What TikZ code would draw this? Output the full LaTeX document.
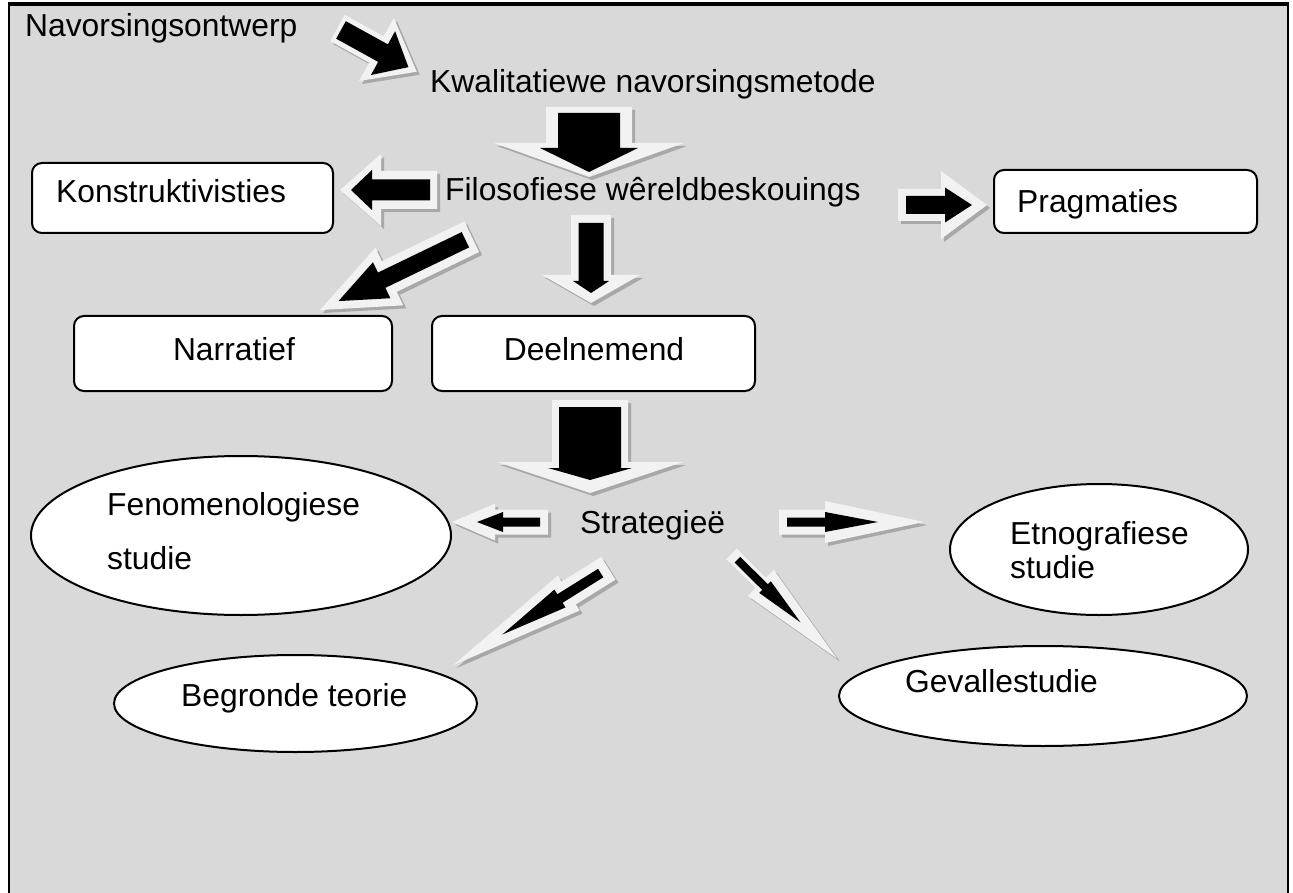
\documentclass[tikz,border=0pt]{standalone}
\usepackage{fontspec}
\setmainfont{Liberation Sans}
\usetikzlibrary{calc,shapes.geometric}

\definecolor{panel}{HTML}{D9D9D9}
\definecolor{arrowface}{HTML}{F2F2F2}
\definecolor{arrowshadow}{HTML}{A8A8A8}

\tikzset{
  % block arrow along local +x: tail at #1, tip at #2,
  % shaft half width #3, head half width #4, head length #5
  pics/blockarrow/.style args={#1/#2/#3/#4/#5}{code={
    \path[pic actions] (#1,-#3) -- ({#2-#5},-#3) -- ({#2-#5},-#4) -- (#2,0)
      -- ({#2-#5},#4) -- ({#2-#5},#3) -- (#1,#3) -- cycle;
  }},
  label/.style={inner sep=0pt, font=\fontsize{31.8}{38}\selectfont},
  card/.style={draw=black, fill=white, line width=2pt, rounded corners=10pt, inner sep=0pt},
  oval/.style={ellipse, draw=black, fill=white, line width=2pt, inner sep=0pt},
}

% shadow, light face and black core of a block arrow
\newcommand\fatarrow[4]{%
  \pic[rotate=#2, fill=arrowshadow] at ($(#1)+(3,3)$) {blockarrow=#3};
  \pic[rotate=#2, fill=arrowface] at (#1) {blockarrow=#3};
  \pic[rotate=#2, fill=black] at (#1) {blockarrow=#4};
}

\begin{document}
\begin{tikzpicture}[x=1pt,y=-1pt]
\useasboundingbox (0,0) rectangle (1293,893);
\fill[white] (0,0) rectangle (1293,893);

% panel with its frame
\fill[panel] (9,4) rectangle (1288,900);
\draw[line width=2pt] (9,900) -- (9,4) -- (1288,4) -- (1288,900);
\draw[line width=3.5pt] (8,4) -- (1289,4);

% boxes
\node[card, minimum width=301pt, minimum height=70pt] (konstr) at (182.5,198) {};
\node[card, minimum width=263pt, minimum height=63pt] (prag) at (1125.5,201.5) {};
\node[card, minimum width=318pt, minimum height=75pt] (narr) at (233,353.5) {};
\node[card, minimum width=323pt, minimum height=75pt] (deel) at (593.5,353.5) {};

% ovals
\node[oval, minimum width=420pt, minimum height=159pt] (fenom) at (241,535.5) {};
\node[oval, minimum width=298pt, minimum height=131pt] (etno) at (1099,549.5) {};
\node[oval, minimum width=363pt, minimum height=97pt] (begr) at (295.5,703.5) {};
\node[oval, minimum width=408pt, minimum height=100pt] (geval) at (1043,696) {};

% texts
\node[label, anchor=base west] (tontwerp) at (25,37) {Navorsingsontwerp};
\node[label, anchor=base west] (tmetode) at (430,93) {Kwalitatiewe navorsingsmetode};
\node[label, anchor=base west] (tfilo) at (445,201) {Filosofiese wêreldbeskouings};
\node[label, anchor=base west] (tkonstr) at (56,203) {Konstruktivisties};
\node[label, anchor=base west] (tprag) at (1017,213) {Pragmaties};
\node[label, anchor=base] (tnarr) at (234,360) {Narratief};
\node[label, anchor=base] (tdeel) at (594,360) {Deelnemend};
\node[label, anchor=base west] (tstrat) at (580,533) {Strategieë};
\node[label, anchor=base west] (tfenom1) at (107,515) {Fenomenologiese};
\node[label, anchor=base west] (tfenom2) at (107,569) {studie};
\node[label, anchor=base west] (tetno1) at (1010,544) {Etnografiese};
\node[label, anchor=base west] (tetno2) at (1010,578) {studie};
\node[label, anchor=base west] (tbegr) at (181,706) {Begronde teorie};
\node[label, anchor=base west] (tgeval) at (905,692) {Gevallestudie};

% block arrows: tail points
\coordinate (a1) at (337.5,28);
\coordinate (a2) at (589,107);
\coordinate (a3) at (437,190);
\coordinate (a4) at (898,205);
\coordinate (a5) at (471.7,236.7);
\coordinate (a6) at (591,215);
\coordinate (a7) at (590,400);
\coordinate (a8) at (548,522);
\coordinate (a9) at (779,522);
\coordinate (a10) at (608.3,568.3);
\coordinate (a11) at (731.7,554);

\fatarrow{a1}{-28.9}{0/90.5/15/36/46}{4/81/10/25/29}
\fatarrow{a2}{-90}{0/70/43/95/34}{6/65/31/49/24}
\fatarrow{a3}{180}{0/97/19/36/41}{7/86/10.5/20/21}
\fatarrow{a4}{0}{0/89/16/34/46}{8/74/9/17.5/27}
\fatarrow{a5}{205.8}{0/168.5/17/32/77}{7/148/8.5/20/48}
\fatarrow{a6}{-90}{0/88/20/49/28}{8/78/12.5/18/12}
\fatarrow{a7}{-90}{0/93/38/93/31}{7/80/31/42/12}
\fatarrow{a8}{180}{0/96/12.5/18.5/43}{8/71/4.5/10/26}
\fatarrow{a9}{0}{0/145/12.5/21/99}{8/99/4.5/10/53}
\fatarrow{a10}{212}{0/182.7/13.4/20.6/136}{9/125/5/10.5/68}
\fatarrow{a11}{-44.8}{0/148/7.5/18.4/107}{8/97/4/8.2/50}

\end{tikzpicture}
\end{document}
